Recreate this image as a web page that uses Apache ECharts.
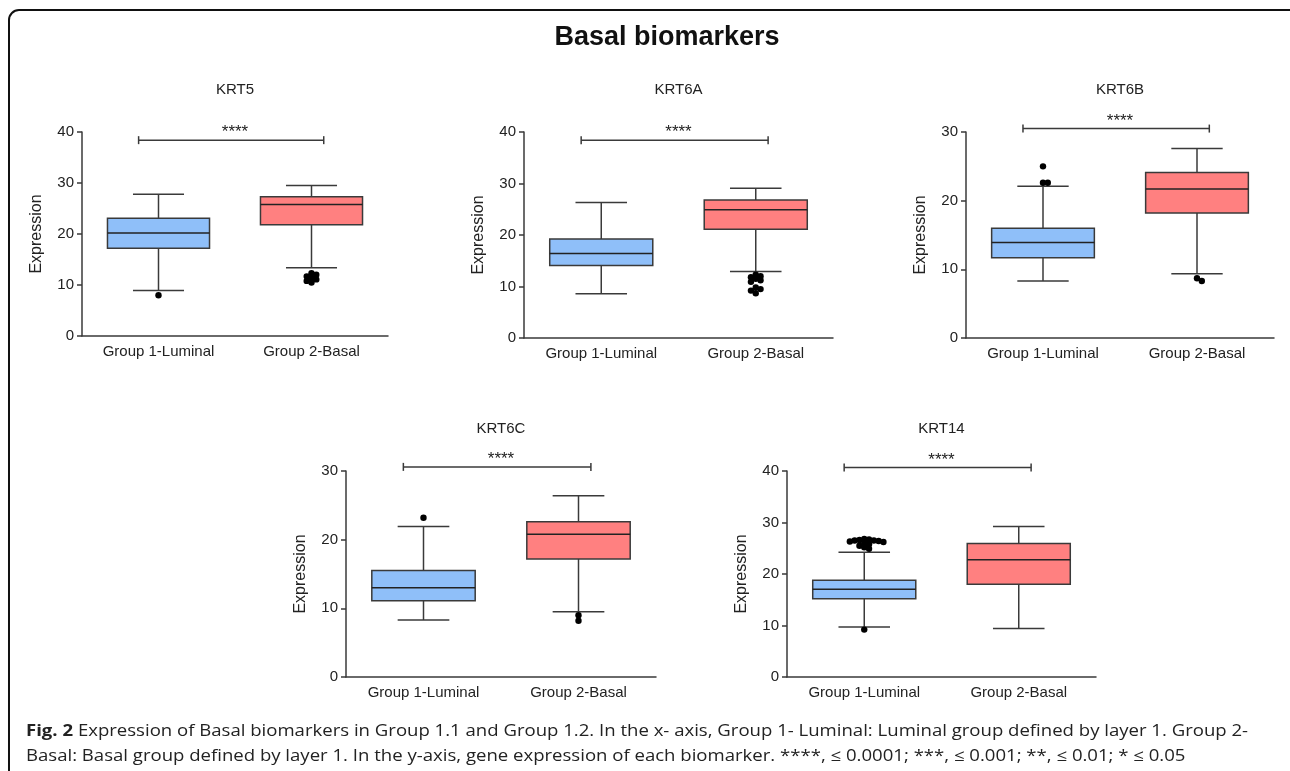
<!DOCTYPE html>
<html>
<head>
<meta charset="utf-8">
<script src="https://cdn.jsdelivr.net/npm/echarts@6/dist/echarts.min.js"></script>
<style>
html,body{margin:0;padding:0;background:#fff;}
#chart{width:1290px;height:771px;}
</style>
</head>
<body>
<div id="chart"></div>
<script>
// ---------------- DATA ----------------
const mainTitle = 'Basal biomarkers';
const genes = ['KRT5', 'KRT6A', 'KRT6B', 'KRT6C', 'KRT14'];
const groups = ['Group 1-Luminal', 'Group 2-Basal'];
const yMax = [40, 40, 30, 30, 40];
const yInterval = 10;
// [min whisker, Q1, median, Q3, max whisker]
const luminalStats = [
  [8.9, 17.2, 20.2, 23.1, 27.8],
  [8.6, 14.1, 16.4, 19.2, 26.3],
  [8.3, 11.7, 13.9, 16.0, 22.1],
  [8.3, 11.1, 13.0, 15.5, 21.9],
  [9.7, 15.2, 17.05, 18.8, 24.2]
];
const basalStats = [
  [13.4, 21.8, 25.8, 27.3, 29.5],
  [12.9, 21.1, 24.9, 26.8, 29.1],
  [9.35, 18.2, 21.7, 24.1, 27.6],
  [9.5, 17.2, 20.8, 22.6, 26.4],
  [9.4, 18.0, 22.75, 25.9, 29.2]
];
const luminalOutliers = [
  [8.0],
  [],
  [25.0, 22.6, 22.6],
  [23.2],
  [26.8, 26.7, 26.6, 26.5, 26.5, 26.4, 26.3, 26.2, 26.0, 25.8, 25.5, 25.2, 24.9, 9.2]
];
const basalOutliers = [
  [12.3, 12.0, 11.7, 11.4, 11.1, 10.8, 10.5],
  [12.3, 12.0, 11.8, 11.5, 11.2, 10.9, 9.8, 9.5, 9.2, 8.7],
  [8.7, 8.3],
  [9.0, 8.2],
  []
];
const sigLabel = '****';
const sigHeight = [38.4, 38.4, 30.5, 30.6, 40.7];
const captionLine1 = '{b|Fig. 2} Expression of Basal biomarkers in Group 1.1 and Group 1.2. In the x- axis, Group 1- Luminal: Luminal group defined by layer 1. Group 2-';
const captionLine2 = 'Basal: Basal group defined by layer 1. In the y-axis, gene expression of each biomarker. ****, \u2264 0.0001; ***, \u2264 0.001; **, \u2264 0.01; * \u2264 0.05';

// ---------------- LAYOUT / STYLE ----------------
const grids = [
  {left: 82, top: 132, width: 306, height: 204},
  {left: 524, top: 132, width: 309, height: 206},
  {left: 966, top: 132, width: 308, height: 206},
  {left: 346, top: 471, width: 310, height: 206},
  {left: 787, top: 471, width: 309, height: 206}
];
const FONT = '"Liberation Sans", Arial, sans-serif';
const CAPFONT = '"Open Sans", sans-serif';
const lineColor = '#3a3a3a';
const fills = ['#8fbff9', '#ff8080'];
const dotR = 3.2;

function swarm(values, ppu) {
  const placed = [];
  const res = [];
  const sorted = values.slice().sort((a, b) => b - a);
  const step = 2.4, minD = 4.0;
  sorted.forEach(v => {
    const y = v * ppu;
    let off = 0;
    for (let k = 0; k < 40; k++) {
      const o = k === 0 ? 0 : (k % 2 ? 1 : -1) * Math.ceil(k / 2) * step;
      let ok = true;
      for (const p of placed) {
        const dx = o - p.x, dy = y - p.y;
        if (dx * dx + dy * dy < minD * minD) { ok = false; break; }
      }
      if (ok) { off = o; break; }
    }
    placed.push({x: off, y: y});
    res.push([v, off]);
  });
  return res;
}

const chart = echarts.init(document.getElementById('chart'), null, {renderer: 'canvas'});

const option = {
  backgroundColor: '#fff',
  animation: false,
  grid: [], xAxis: [], yAxis: [], series: [],
  graphic: []
};

genes.forEach((g, i) => {
  const gr = grids[i];
  option.grid.push({left: gr.left, top: gr.top, width: gr.width, height: gr.height, containLabel: false});
  option.xAxis.push({
    type: 'category', gridIndex: i, data: groups, boundaryGap: true,
    axisLine: {lineStyle: {color: lineColor, width: 1.5}},
    axisTick: {alignWithLabel: true, length: 5, lineStyle: {color: lineColor, width: 1.5}},
    axisLabel: {color: '#222', fontSize: 15, fontFamily: FONT, margin: 8}
  });
  option.yAxis.push({
    type: 'value', gridIndex: i, min: 0, max: yMax[i], interval: yInterval,
    name: 'Expression', nameLocation: 'middle', nameGap: 37,
    nameTextStyle: {color: '#222', fontSize: 16, fontFamily: FONT},
    axisLine: {show: true, lineStyle: {color: lineColor, width: 1.5}},
    axisTick: {show: true, length: 5, lineStyle: {color: lineColor, width: 1.5}},
    axisLabel: {color: '#222', fontSize: 15, fontFamily: FONT, margin: 8},
    splitLine: {show: false}
  });
  // panel title
  option.graphic.push({
    type: 'text', x: gr.left + gr.width / 2, y: gr.top - 42,
    style: {text: g, fill: '#222', font: '15px ' + FONT, textAlign: 'center', textVerticalAlign: 'middle'}
  });
  // boxes
  const boxData = [[0].concat(luminalStats[i]), [1].concat(basalStats[i])];
  option.series.push({
    type: 'custom', xAxisIndex: i, yAxisIndex: i,
    data: boxData,
    renderItem: function (params, api) {
      const cat = api.value(0);
      const pMin = api.coord([cat, api.value(1)]);
      const pQ1 = api.coord([cat, api.value(2)]);
      const pMed = api.coord([cat, api.value(3)]);
      const pQ3 = api.coord([cat, api.value(4)]);
      const pMax = api.coord([cat, api.value(5)]);
      const band = api.size([1, 0])[0];
      const bw = band * 0.667;
      const cw = bw / 2;
      const cx = pMin[0];
      const st = {stroke: lineColor, lineWidth: 1.5};
      return {
        type: 'group',
        children: [
          {type: 'line', shape: {x1: cx, y1: pMin[1], x2: cx, y2: pQ1[1]}, style: st},
          {type: 'line', shape: {x1: cx, y1: pQ3[1], x2: cx, y2: pMax[1]}, style: st},
          {type: 'line', shape: {x1: cx - cw / 2, y1: pMin[1], x2: cx + cw / 2, y2: pMin[1]}, style: st},
          {type: 'line', shape: {x1: cx - cw / 2, y1: pMax[1], x2: cx + cw / 2, y2: pMax[1]}, style: st},
          {type: 'rect', shape: {x: cx - bw / 2, y: pQ3[1], width: bw, height: pQ1[1] - pQ3[1]},
            style: {fill: fills[cat], stroke: lineColor, lineWidth: 1.5}},
          {type: 'line', shape: {x1: cx - bw / 2, y1: pMed[1], x2: cx + bw / 2, y2: pMed[1]}, style: {stroke: '#222', lineWidth: 1.5}}
        ]
      };
    }
  });
  // outliers
  const ppu = gr.height / yMax[i];
  const outData = [];
  swarm(luminalOutliers[i], ppu).forEach(p => outData.push([0, p[0], p[1]]));
  swarm(basalOutliers[i], ppu).forEach(p => outData.push([1, p[0], p[1]]));
  option.series.push({
    type: 'custom', xAxisIndex: i, yAxisIndex: i, data: outData,
    renderItem: function (params, api) {
      const c = api.coord([api.value(0), api.value(1)]);
      return {type: 'circle', shape: {cx: c[0] + api.value(2), cy: c[1], r: dotR}, style: {fill: '#000'}};
    }
  });
  // significance bar
  option.series.push({
    type: 'custom', xAxisIndex: i, yAxisIndex: i, data: [[-0.13, 1.08, sigHeight[i]]],
    renderItem: function (params, api) {
      const h = api.value(2);
      const a = api.coord([0, h]);
      const b = api.coord([1, h]);
      const d = b[0] - a[0];
      const x1 = a[0] + d * api.value(0);
      const x2 = a[0] + d * api.value(1);
      const y = a[1];
      const st = {stroke: lineColor, lineWidth: 1.5};
      return {
        type: 'group', children: [
          {type: 'line', shape: {x1: x1, y1: y, x2: x2, y2: y}, style: st},
          {type: 'line', shape: {x1: x1, y1: y - 4, x2: x1, y2: y + 4}, style: st},
          {type: 'line', shape: {x1: x2, y1: y - 4, x2: x2, y2: y + 4}, style: st},
          {type: 'text', x: (a[0] + b[0]) / 2, y: y + 1,
            style: {text: sigLabel, fill: '#222', font: '17px ' + FONT, textAlign: 'center', textVerticalAlign: 'bottom'}}
        ]
      };
    }
  });
});

// main title
option.graphic.push({
  type: 'text', x: 667, y: 38,
  style: {text: mainTitle, fill: '#111', font: 'bold 27px ' + FONT, textAlign: 'center', textVerticalAlign: 'middle'}
});
// frame
option.graphic.push({
  type: 'rect', shape: {x: 9, y: 10, width: 1310, height: 800, r: 10},
  style: {fill: 'none', stroke: '#111', lineWidth: 2}
});
// caption
option.graphic.push({
  type: 'text', x: 26, y: 731, scaleX: 1.16,
  style: {text: captionLine1, fill: '#222', font: '16px ' + CAPFONT, textVerticalAlign: 'middle',
    rich: {b: {fontWeight: 'bold', fontSize: 16, fontFamily: CAPFONT, fill: '#222'}}}
});
option.graphic.push({
  type: 'text', x: 26, y: 756, scaleX: 1.16,
  style: {text: captionLine2, fill: '#222', font: '16px ' + CAPFONT, textVerticalAlign: 'middle'}
});

chart.setOption(option);
</script>
</body>
</html>
